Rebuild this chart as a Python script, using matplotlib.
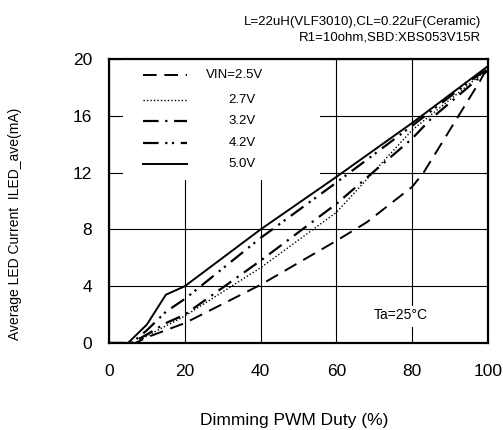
import matplotlib
matplotlib.use('Agg')
import matplotlib.pyplot as plt
from matplotlib.patches import Rectangle

plt.rcParams['font.family'] = ['Liberation Sans', 'DejaVu Sans']

# duty (%) vs ILED (mA) for each VIN
x_50 = [0, 5, 10, 15, 20, 40, 60, 80, 100]
y_50 = [0, 0, 1.3, 3.4, 4.0, 8.0, 11.7, 15.5, 19.5]
x_42 = [0, 6, 10, 15, 20, 40, 60, 80, 96, 100]
y_42 = [0, 0, 0.9, 2.2, 3.1, 7.4, 11.3, 15.3, 18.6, 19.3]
x_32 = [0, 6, 10, 15, 20, 40, 60, 80, 85, 100]
y_32 = [0, 0, 0.6, 1.4, 2.0, 5.8, 9.8, 14.4, 15.8, 19.2]
x_27 = [0, 7, 10, 15, 20, 40, 60, 80, 100]
y_27 = [0, 0, 0.5, 1.2, 1.9, 5.3, 9.2, 15.0, 19.3]
x_25 = [0, 7, 10, 15, 20, 40, 60, 68, 80, 83, 98, 100]
y_25 = [0, 0, 0.4, 0.9, 1.4, 4.1, 7.2, 8.5, 11.0, 12.0, 18.5, 19.5]

legend_labels = ['VIN=2.5V', '2.7V', '3.2V', '4.2V', '5.0V']
xticks = [0, 20, 40, 60, 80, 100]
yticks = [0, 4, 8, 12, 16, 20]

fig = plt.figure(figsize=(5.03, 4.30), dpi=100)
ax = fig.add_axes([0.2167, 0.2023, 0.7535, 0.6605])

styles = [
    dict(ls=(0, (7, 4)), lw=1.4),
    dict(ls=(0, (1, 1.5)), lw=1.0),
    dict(ls=(0, (7, 3, 1, 3)), lw=1.6),
    dict(ls=(0, (7, 3, 1, 2, 1, 3)), lw=1.6),
    dict(ls='-', lw=1.4),
]
series = [(x_25, y_25), (x_27, y_27), (x_32, y_32), (x_42, y_42), (x_50, y_50)]
for (xs, ys), st in zip(series, styles):
    ax.plot(xs, ys, color='black', zorder=4, **st)

ax.set_xlim(0, 100)
ax.set_ylim(0, 20)
ax.set_xticks(xticks)
ax.set_yticks(yticks)
ax.tick_params(length=0, labelsize=12.5)
ax.tick_params(axis='x', pad=15)
ax.tick_params(axis='y', pad=12)
ax.grid(True, color='black', lw=0.8, zorder=1)
ax.set_axisbelow(True)
for sp in ax.spines.values():
    sp.set_linewidth(1.6)

# white areas behind legend and temperature note
ax.add_patch(Rectangle((3.7, 11.5), 51.9, 8.5, facecolor='white', edgecolor='none', zorder=2))
ax.add_patch(Rectangle((67, 1.1), 19, 1.5, facecolor='white', edgecolor='none', zorder=2))

ly = [18.9, 17.1, 15.6, 14.1, 12.6]
lx = [25.5, 31.5, 31.5, 31.5, 31.5]
for y, tx, lab, st in zip(ly, lx, legend_labels, styles):
    ax.plot([9, 20.6], [y, y], color='black', zorder=4, **st)
    ax.text(tx, y, lab, fontsize=9.5, ha='left', va='center', zorder=5)

ax.text(77, 2.0, 'Ta=25°C', fontsize=10, ha='center', va='center', zorder=5)

fig.text(0.957, 0.950, 'L=22uH(VLF3010),CL=0.22uF(Ceramic)', fontsize=9.5, ha='right', va='center')
fig.text(0.957, 0.912, 'R1=10ohm,SBD:XBS053V15R', fontsize=9.5, ha='right', va='center')

fig.text(0.03, 0.48, 'Average LED Current  ILED_ave(mA)', fontsize=10, rotation=90, ha='center', va='center')
fig.text(0.585, 0.004, 'Dimming PWM Duty (%)', fontsize=12.5, ha='center', va='bottom')

fig.savefig('out.png', dpi=100)
